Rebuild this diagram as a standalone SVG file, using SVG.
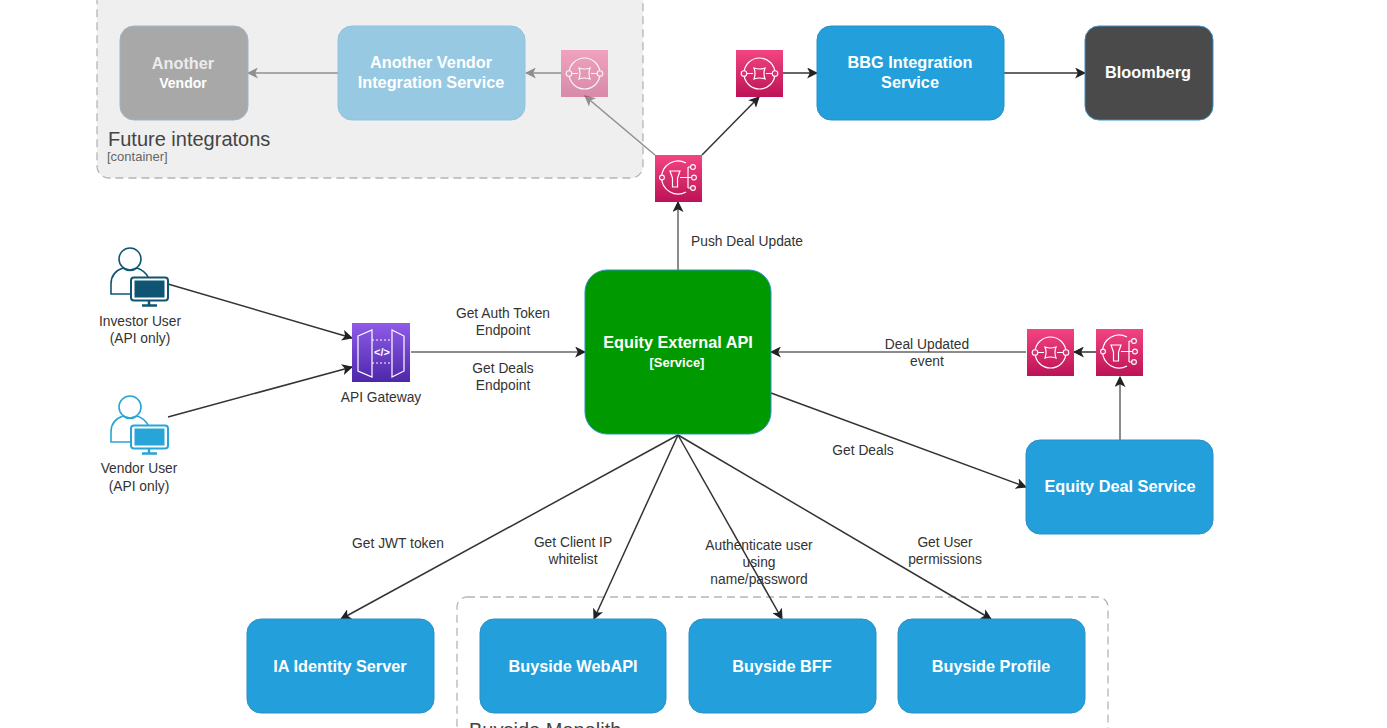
<svg xmlns="http://www.w3.org/2000/svg" width="1387" height="728" viewBox="0 0 1387 728">
<style>
text{font-family:"Liberation Sans",Arial,sans-serif;text-anchor:middle}
.svc{fill:#23a0dc;stroke:#2b8fc4;stroke-width:1}
.t{fill:#fff;font-weight:700;font-size:16.300px}
.l{fill:#333;font-size:13.800px}
.c{fill:none;stroke:#333;stroke-width:1.500}
.g{fill:none;stroke:#666;stroke-width:1.500}
.f{fill:none;stroke:#8f8f8f;stroke-width:1.500}
.w{fill:none;stroke:#fff;stroke-width:1.200}
.cont{stroke:#b5b5b5;stroke-width:1.300;stroke-dasharray:8 5}
.h{text-anchor:start;font-size:20px;fill:#444}
</style>
<defs>
<marker id="a" viewBox="0 0 10 10" refX="9" refY="5" markerWidth="11" markerHeight="11" markerUnits="userSpaceOnUse" orient="auto"><path d="M0 0L10 5L0 10L2.500 5Z" fill="#222"/></marker>
<marker id="ag" viewBox="0 0 10 10" refX="9" refY="5" markerWidth="11" markerHeight="11" markerUnits="userSpaceOnUse" orient="auto"><path d="M0 0L10 5L0 10L2.500 5Z" fill="#8f8f8f"/></marker>
<linearGradient id="pink" x1="0" y1="1" x2="0" y2="0"><stop offset="0" stop-color="#bc1356"/><stop offset="1" stop-color="#f34482"/></linearGradient>
<linearGradient id="purple" x1="0" y1="1" x2="0" y2="0"><stop offset="0" stop-color="#4d27aa"/><stop offset="1" stop-color="#8f5be8"/></linearGradient>
<g id="q"><rect width="47" height="47" fill="url(#pink)"/><circle class="w" cx="23.500" cy="23.500" r="15.500"/><circle cx="8" cy="23.500" r="2.800" fill="#d6336f" stroke="#fff" stroke-width="1.100"/><circle cx="39" cy="23.500" r="2.800" fill="#d6336f" stroke="#fff" stroke-width="1.100"/><path class="w" d="M11 23.500H17M30 23.500H36M18 18Q23.500 20 29 18Q27 23.500 29 29Q23.500 27 18 29Q20 23.500 18 18Z"/></g>
<g id="s"><rect width="47" height="47" fill="url(#pink)"/><path class="w" d="M31 8A16.500 16.500 0 1 0 31 37"/><circle cx="7" cy="22.500" r="2.400" fill="#d6336f" stroke="#fff" stroke-width="1.100"/><path class="w" d="M15 16H25L22.500 23V32H17.500V23ZM25 22.500H37M33 12V33M33 12H36M33 33H36"/><circle cx="38" cy="12" r="2.400" fill="#d6336f" stroke="#fff" stroke-width="1.100"/><circle cx="39" cy="22.500" r="2.400" fill="#d6336f" stroke="#fff" stroke-width="1.100"/><circle cx="38" cy="33" r="2.400" fill="#d6336f" stroke="#fff" stroke-width="1.100"/></g>
<g id="u"><circle cx="20" cy="12" r="11" fill="#fff" stroke="currentColor" stroke-width="1.600"/><path d="M1 47V37Q1 25 13 21Q20 26 27 21Q35 24 38 30V47Z" fill="#fff" stroke="currentColor" stroke-width="1.600"/><rect x="21" y="30.500" width="37" height="23" rx="3" fill="#fff" stroke="currentColor" stroke-width="2"/><rect x="24.500" y="33.500" width="30" height="17" fill="currentColor"/><path d="M39 54V58M32 58.500H47" stroke="currentColor" stroke-width="2.500" fill="none"/></g>
</defs>
<rect width="1387" height="728" fill="#fff"/>

<g id="future-integrations">
<rect class="cont" x="97" y="-14" width="546" height="192" rx="12" fill="#efefef"/>
<text class="h" x="108" y="146">Future integratons</text>
<text x="107" y="161" style="text-anchor:start;font-size:13px" fill="#666">[container]</text>
</g>
<g id="buyside-monolith">
<rect class="cont" x="457" y="597" width="651" height="160" rx="10" fill="#fff"/>
<text class="h" x="469" y="737">Buyside Monolith</text>
</g>

<g id="connectors">
<path class="f" marker-end="url(#ag)" d="M338 73H248"/>
<path class="f" marker-end="url(#ag)" d="M561 73H526"/>
<path class="f" marker-end="url(#ag)" d="M655 155L585 96"/>
<path class="c" marker-end="url(#a)" d="M702 155L759 97"/>
<path class="c" marker-end="url(#a)" d="M783 73H817"/>
<path class="c" marker-end="url(#a)" d="M1004 73H1085"/>
<path class="g" marker-end="url(#a)" d="M678 270V202"/>
<path class="c" marker-end="url(#a)" d="M168 284L352 338"/>
<path class="c" marker-end="url(#a)" d="M168 417L352 367"/>
<path class="g" marker-end="url(#a)" d="M411 352H585"/>
<path class="g" marker-end="url(#a)" d="M1026 352H771"/>
<path class="c" marker-end="url(#a)" d="M1096 352H1074"/>
<path class="g" marker-end="url(#a)" d="M1120 440V377"/>
<path class="c" marker-end="url(#a)" d="M771 393L1026 487"/>
<path class="c" marker-end="url(#a)" d="M678 435L341 619"/>
<path class="c" marker-end="url(#a)" d="M678 435L594 619"/>
<path class="c" marker-end="url(#a)" d="M678 435L782 619"/>
<path class="c" marker-end="url(#a)" d="M678 435L991 619"/>
</g>

<g id="another-vendor"><rect x="120" y="26" width="128" height="94" rx="14" fill="#a8a8a8" stroke="#9fb6c9"/><text class="t" x="183" y="69" fill-opacity="0.8">Another</text><text class="t" x="183" y="88" style="font-size:14px">Vendor</text></g>
<g id="another-vendor-service"><rect x="338" y="26" width="187" height="94" rx="14" fill="#97c9e3" stroke="#8fc3de"/><text class="t" x="431" y="68">Another Vendor</text><text class="t" x="431" y="88">Integration Service</text></g>
<g id="queue-future" opacity="0.45"><use href="#q" x="561" y="50"/></g>
<g id="queue-bbg"><use href="#q" x="736" y="50"/></g>
<g id="sns-top"><use href="#s" x="655" y="155"/></g>
<g id="bbg-service"><rect class="svc" x="817" y="26" width="187" height="94" rx="14"/><text class="t" x="910" y="68">BBG Integration</text><text class="t" x="910" y="88">Service</text></g>
<g id="bloomberg"><rect x="1085" y="26" width="128" height="94" rx="14" fill="#4a4a4a" stroke="#3d8fc2"/><text class="t" x="1148" y="78">Bloomberg</text></g>

<g id="investor-user" color="#0f5573"><use href="#u" x="110" y="247"/><text class="l" x="140" y="326">Investor User</text><text class="l" x="140" y="343">(API only)</text></g>
<g id="vendor-user" color="#28a5d8"><use href="#u" x="110" y="395"/><text class="l" x="139" y="473">Vendor User</text><text class="l" x="139" y="491">(API only)</text></g>
<g id="api-gateway"><rect x="352" y="323" width="58" height="59" fill="url(#purple)"/><path class="w" d="M358 336L372 330V377L358 371ZM404 336V371L392 377V330Z"/><path class="w" d="M372 340H392M372 363H392" stroke-dasharray="2 2"/><text x="382" y="356" fill="#fff" style="font-size:11px;font-weight:700">&lt;/&gt;</text><text class="l" x="381" y="402">API Gateway</text></g>

<g id="equity-api"><rect x="585" y="270" width="186" height="164" rx="22" fill="#009a00" stroke="#2b8fc4"/><text class="t" x="678" y="348">Equity External API</text><text x="677" y="367" fill="#fff" style="font-size:13px;font-weight:700">[Service]</text></g>
<g id="queue-deal"><use href="#q" x="1027" y="329"/></g>
<g id="sns-deal"><use href="#s" x="1096" y="329"/></g>
<g id="equity-deal"><rect class="svc" x="1026" y="440" width="187" height="94" rx="14"/><text class="t" x="1120" y="492">Equity Deal Service</text></g>
<g id="ia-identity"><rect class="svc" x="247" y="619" width="187" height="94" rx="14"/><text class="t" x="340" y="672">IA Identity Server</text></g>
<g id="buyside-webapi"><rect class="svc" x="480" y="619" width="186" height="94" rx="14"/><text class="t" x="573" y="672">Buyside WebAPI</text></g>
<g id="buyside-bff"><rect class="svc" x="689" y="619" width="187" height="94" rx="14"/><text class="t" x="782" y="672">Buyside BFF</text></g>
<g id="buyside-profile"><rect class="svc" x="898" y="619" width="187" height="94" rx="14"/><text class="t" x="991" y="672">Buyside Profile</text></g>

<g id="labels">
<text class="l" x="747" y="246">Push Deal Update</text>
<text class="l" x="503" y="318">Get Auth Token</text><text class="l" x="503" y="335">Endpoint</text>
<text class="l" x="503" y="373">Get Deals</text><text class="l" x="503" y="390">Endpoint</text>
<text class="l" x="927" y="349">Deal Updated</text><text class="l" x="927" y="366">event</text>
<text class="l" x="863" y="455">Get Deals</text>
<text class="l" x="398" y="548">Get JWT token</text>
<text class="l" x="573" y="547">Get Client IP</text><text class="l" x="573" y="564">whitelist</text>
<text class="l" x="759" y="550">Authenticate user</text><text class="l" x="759" y="567">using</text><text class="l" x="759" y="584">name/password</text>
<text class="l" x="945" y="547">Get User</text><text class="l" x="945" y="564">permissions</text>
</g>
</svg>
